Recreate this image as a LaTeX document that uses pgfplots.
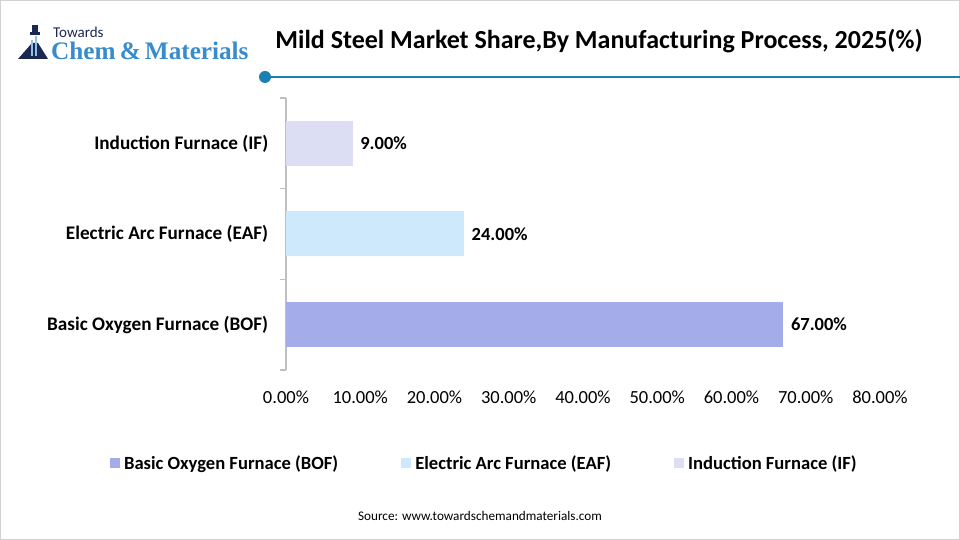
\documentclass[border=0pt]{standalone}
\usepackage{pgfplots}
\pgfplotsset{compat=1.18}
\usepackage{fontspec}
\setmainfont{Carlito}
\newfontfamily\logoserif{Liberation Serif}

\definecolor{bofcol}{RGB}{165,172,234}
\definecolor{eafcol}{RGB}{205,233,251}
\definecolor{ifcol}{RGB}{220,223,244}
\definecolor{rulecol}{RGB}{26,128,178}
\definecolor{logoblue}{RGB}{56,140,204}
\definecolor{logonavy}{RGB}{28,40,84}
\definecolor{axisgray}{RGB}{191,191,191}

\newcommand{\fs}[1]{\fontsize{#1}{#1}\selectfont}

\begin{document}
\begin{tikzpicture}[x=1pt,y=1pt]
  % canvas 960 x 540
  \useasboundingbox (0,0) rectangle (960,540);
  \fill[white] (0,0) rectangle (960,540);
  \draw[gray!35, line width=1pt] (0.5,0.5) rectangle (959.5,539.5);

  % logo: flask icon and wordmark
  \fill[logonavy] (32,508) rectangle (38,515);
  \fill[logonavy] (30,505) rectangle (40,508);
  \fill[logonavy] (32,497) -- (38,497) -- (48,481) -- (18,481) -- cycle;
  \fill[logoblue!55] (31,484) rectangle (33,500);
  \fill[logoblue!55] (35,484) rectangle (37,504);
  \node[anchor=west, inner sep=0, text=logonavy] at (53,508) {\fs{15}Towards};
  \node[anchor=west, inner sep=0, text=logoblue] at (51,489) {\logoserif\fs{25.2}\bfseries Chem\,\&\,Materials};

  % title and rule
  \node[anchor=center, inner sep=0] at (599,499) {\fs{26}\bfseries Mild Steel Market Share,By Manufacturing Process, 2025(\%)};
  \draw[rulecol, line width=2.5pt] (265,463) -- (960,463);
  \fill[rulecol] (265,463) circle (6);

  \begin{axis}[
    at={(286pt,170pt)}, anchor=south west,
    scale only axis, width=594pt, height=272pt,
    xbar, bar width=45pt, bar shift=0pt,
    xmin=0, xmax=80, ymin=-0.5, ymax=2.5,
    axis lines*=left,
    x axis line style={draw=none},
    y axis line style={draw=axisgray, line width=1.5pt},
    xtick={0,10,...,80},
    xticklabels={0.00\%,10.00\%,20.00\%,30.00\%,40.00\%,50.00\%,60.00\%,70.00\%,80.00\%},
    xtick style={draw=none},
    xticklabel style={font=\fs{18.5}, yshift=-17pt},
    ytick={0,1,2},
    yticklabels={Basic Oxygen Furnace (BOF),Electric Arc Furnace (EAF),Induction Furnace (IF)},
    ytick style={draw=none},
    yticklabel style={font=\fs{19.2}\bfseries, xshift=-10pt},
    extra y ticks={-0.5,0.5,1.5,2.5},
    extra y tick labels={},
    extra y tick style={ytick style={draw=axisgray, line width=1.5pt}, major tick length=6pt, tick align=outside},
    nodes near coords={\pgfmathprintnumber[fixed,fixed zerofill,precision=2,assume math mode=true]{\pgfplotspointmeta}\%},
    every node near coord/.append style={font=\fs{18.5}\bfseries, text=black, xshift=4pt},
    legend columns=3,
    legend style={at={(0.334,-0.342)}, anchor=center, draw=none, fill=none,
      font=\fs{18.6}\bfseries, /tikz/every even column/.style={column sep=61pt},
      /tikz/column 1/.style={column sep=2pt},
      /tikz/column 3/.style={column sep=2pt},
      /tikz/column 5/.style={column sep=2pt}},
    legend image code/.code={\fill[#1] (0pt,-5pt) rectangle (10pt,5pt);},
    clip=false,
  ]
    \addplot[fill=bofcol, draw=none] coordinates {(67,0)};
    \addlegendentry{Basic Oxygen Furnace (BOF)}
    \addplot[fill=eafcol, draw=none] coordinates {(24,1)};
    \addlegendentry{Electric Arc Furnace (EAF)}
    \addplot[fill=ifcol, draw=none] coordinates {(9,2)};
    \addlegendentry{Induction Furnace (IF)}
  \end{axis}

  \node[anchor=center, inner sep=0] at (480,24) {\fs{13.2}Source: www.towardschemandmaterials.com};
\end{tikzpicture}
\end{document}
